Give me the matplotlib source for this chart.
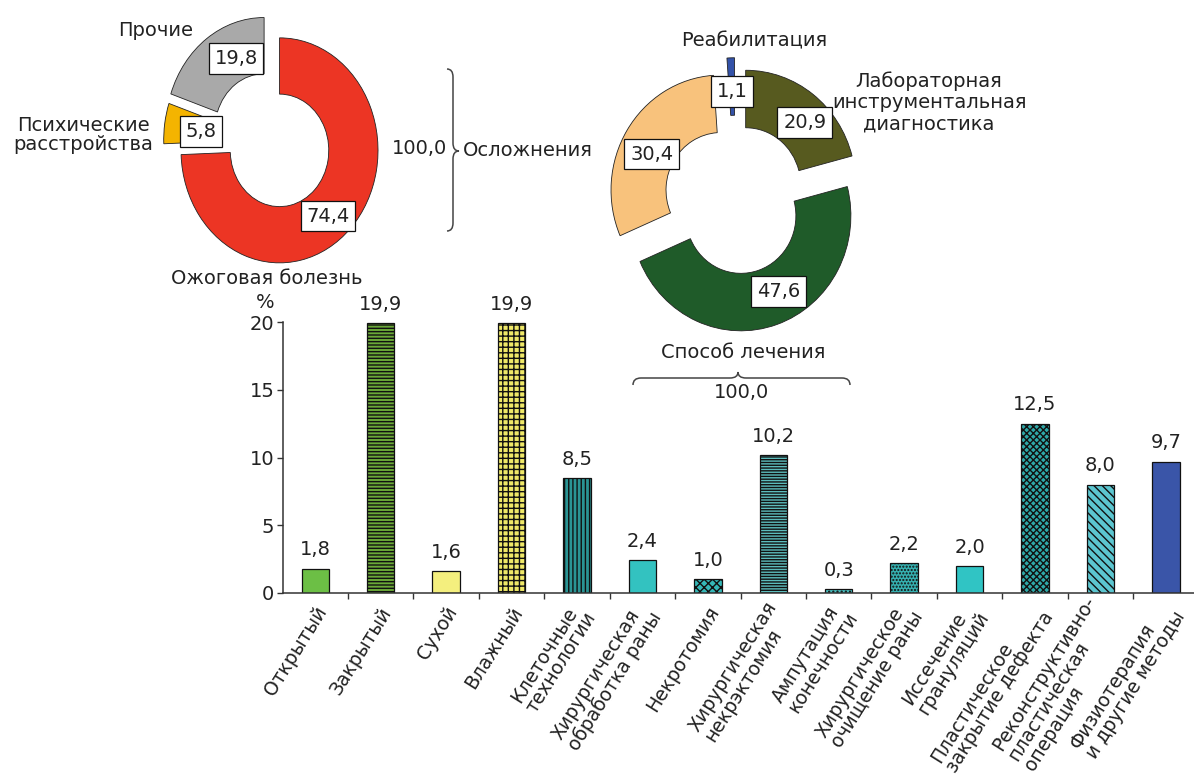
import numpy as np
import matplotlib
matplotlib.use('Agg')
import matplotlib.pyplot as plt
from matplotlib.path import Path
from matplotlib.patches import PathPatch

plt.rcParams['font.family'] = ['DejaVu Sans']
plt.rcParams['hatch.linewidth'] = 1.0

# ---- данные ----
# осложнения (левый кольцевой график)
compl_labels = ['Ожоговая болезнь', 'Психические\nрасстройства', 'Прочие']
compl_values = [74.4, 5.8, 19.8]

# способ лечения (правый кольцевой график)
treat_labels = ['Лабораторная\nинструментальная\nдиагностика', 'Хирургическое лечение',
                'Консервативное лечение', 'Реабилитация']
treat_values = [20.9, 47.6, 30.4, 1.1]

# методы лечения (столбцы)
bar_labels = ['Открытый', 'Закрытый', 'Сухой', 'Влажный', 'Клеточные\nтехнологии',
              'Хирургическая\nобработка раны', 'Некротомия', 'Хирургическая\nнекрэктомия',
              'Ампутация\nконечности', 'Хирургическое\nочищение раны', 'Иссечение\nгрануляций',
              'Пластическое\nзакрытие дефекта', 'Реконструктивно-\nпластическая\nоперация',
              'Физиотерапия\nи другие методы']
bar_values = [1.8, 19.9, 1.6, 19.9, 8.5, 2.4, 1.0, 10.2, 0.3, 2.2, 2.0, 12.5, 8.0, 9.7]
y_ticks = [0, 5, 10, 15, 20]

W, H = 1194, 781
TXT = '#222222'
FS = 14


def fx(px):
    return px / W


def fy(py):
    return 1 - py / H


def fmt(v):
    return f'{v:.1f}'.replace('.', ',')


fig = plt.figure(figsize=(W / 100, H / 100), dpi=100)

# ---- столбчатая диаграмма ----
ax = fig.add_axes([fx(282.6), fy(593), fx(1198.5) - fx(282.6), fy(322) - fy(593)])
x = np.arange(len(bar_values))
bar_colors = ['#6cbf45', '#6aa838', '#f4ef7e', '#efe868', '#2a9494', '#33c2c0', '#35b8b8',
              '#5cbcbc', '#48c0c0', '#35b0b0', '#30c4c4', '#2fa8a8', '#5cc6d0', '#3a55a8']
bar_hatches = [None, '-----', None, '+++', '||||', None, 'xxxx', '------', '....', '.....',
               None, 'xxxxx', '\\\\\\\\', None]
bars = ax.bar(x, bar_values, width=0.42, color=bar_colors, edgecolor='#111111', linewidth=0.9)
for b, h in zip(bars, bar_hatches):
    if h:
        b.set_hatch(h)
for xi, v in zip(x, bar_values):
    ax.annotate(fmt(v), (xi, v), xytext=(0, 9.5), textcoords='offset points',
                ha='center', va='baseline', fontsize=FS, color=TXT, clip_on=False)

ax.set_xlim(-0.5, len(bar_values) - 0.5)
ax.set_ylim(0, 20)
ax.set_yticks(y_ticks)
ax.set_yticklabels([str(t) for t in y_ticks], fontsize=FS, color=TXT)
ax.set_xticks(x[:-1] + 0.5)
ax.set_xticklabels([])
ax.tick_params(axis='both', direction='out', length=4, width=1, color='#333333')
ax.tick_params(axis='y', pad=2)
for s in ['top', 'right']:
    ax.spines[s].set_visible(False)
for s in ['left', 'bottom']:
    ax.spines[s].set_color('#333333')
    ax.spines[s].set_linewidth(1.1)

for xi, lab in zip(x, bar_labels):
    ax.annotate(lab, (xi, 0), xytext=(5, -11), textcoords='offset points',
                rotation=58, rotation_mode='anchor', ha='right', va='center',
                multialignment='left', fontsize=13.5, color=TXT, linespacing=0.98,
                annotation_clip=False)

fig.text(fx(265), fy(302), '%', ha='center', va='center', fontsize=FS, color=TXT)

box = dict(boxstyle='square,pad=0.3', facecolor='white', edgecolor='#111111', linewidth=0.9)

# ---- левый кольцевой график: осложнения ----
cxL, cyL, rxL, ryL, lim = 271, 141, 98.5, 112.5, 1.25
axL = fig.add_axes([fx(cxL - lim * rxL), fy(cyL + lim * ryL), 2 * lim * rxL / W, 2 * lim * ryL / H])
axL.pie(compl_values, explode=[0.12, 0.09, 0.12], startangle=90, counterclock=False,
        colors=['#ec3524', '#f4b400', '#a9a9a9'],
        wedgeprops=dict(width=0.5, edgecolor='#222222', linewidth=0.6))
axL.set_aspect('auto')
axL.set_xlim(-lim, lim)
axL.set_ylim(-lim, lim)
axL.axis('off')
for (bx, by), v in zip([(0.579, -0.667), (-0.71, 0.084), (-0.355, 0.733)], compl_values):
    axL.text(bx, by, fmt(v), ha='center', va='center', fontsize=FS, color=TXT, bbox=box)

fig.text(fx(267), fy(279), compl_labels[0], ha='center', va='center', fontsize=FS, color=TXT)
fig.text(fx(83), fy(135), compl_labels[1], ha='center', va='center', fontsize=FS, color=TXT,
         multialignment='center', linespacing=1.05)
fig.text(fx(156), fy(31), compl_labels[2], ha='center', va='center', fontsize=FS, color=TXT)
fig.text(fx(419), fy(149), fmt(sum(compl_values)), ha='center', va='center', fontsize=FS, color=TXT)
fig.text(fx(463), fy(150), 'Осложнения', ha='left', va='center', fontsize=FS, color=TXT)

# ---- правый кольцевой график: способ лечения ----
cxR, cyR, rxR, ryR, lim = 735.4, 199.2, 110, 115, 1.3
axR = fig.add_axes([fx(cxR - lim * rxR), fy(cyR + lim * ryR), 2 * lim * rxR / W, 2 * lim * ryR / H])
axR.pie(treat_values, explode=[0.153, 0.153, 0.153, 0.23], startangle=90, counterclock=False,
        colors=['#575a1f', '#1f5b29', '#f8c27c', '#3352a8'],
        wedgeprops=dict(width=0.5, edgecolor='#222222', linewidth=0.6))
axR.set_aspect('auto')
axR.set_xlim(-lim, lim)
axR.set_ylim(-lim, lim)
axR.axis('off')
for (bx, by), v in zip([(0.63, 0.667), (0.392, -0.803), (-0.76, 0.393), (-0.031, 0.936)],
                       treat_values):
    axR.text(bx, by, fmt(v), ha='center', va='center', fontsize=FS, color=TXT, bbox=box)

fig.text(fx(754), fy(41), treat_labels[3], ha='center', va='center', fontsize=FS, color=TXT)
fig.text(fx(929), fy(102), treat_labels[0], ha='center', va='center', fontsize=FS, color=TXT,
         multialignment='center', linespacing=1.15)
fig.text(fx(743), fy(353), 'Способ лечения', ha='center', va='center', fontsize=FS, color=TXT)
fig.text(fx(741), fy(393), fmt(sum(treat_values)), ha='center', va='center', fontsize=FS, color=TXT)


# ---- фигурные скобки ----
def brace(points):
    verts = [(fx(px), fy(py)) for px, py in points]
    codes = [Path.MOVETO, Path.CURVE3, Path.CURVE3, Path.LINETO, Path.CURVE3, Path.CURVE3,
             Path.CURVE3, Path.CURVE3, Path.LINETO, Path.CURVE3, Path.CURVE3]
    fig.patches.append(PathPatch(Path(verts, codes), transform=fig.transFigure,
                                 facecolor='none', edgecolor='#444444', linewidth=1.1))


# вертикальная скобка у "Осложнения"
x0, xs, xt, yt, ym, yb = 447, 453, 459, 69, 151, 231
brace([(x0, yt), (xs, yt), (xs, yt + 8), (xs, ym - 8), (xs, ym), (xt, ym),
       (xs, ym), (xs, ym + 8), (xs, yb - 8), (xs, yb), (x0, yb)])
# горизонтальная скобка у "Способ лечения"
xl, xm, xr, ye, ysp, ytp = 633, 738, 850, 385, 378, 372
brace([(xl, ye), (xl, ysp), (xl + 8, ysp), (xm - 8, ysp), (xm, ysp), (xm, ytp),
       (xm, ysp), (xm + 8, ysp), (xr - 8, ysp), (xr, ysp), (xr, ye)])

fig.savefig('out.png', dpi=100, facecolor='white')
